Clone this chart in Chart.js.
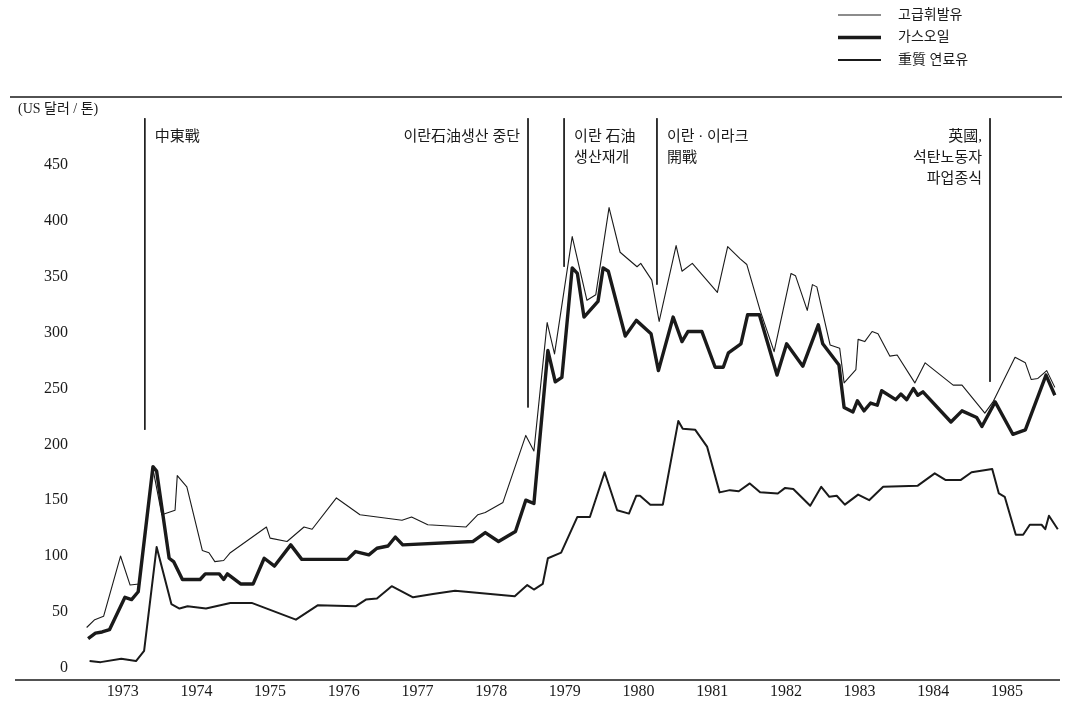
<!DOCTYPE html>
<html>
<head>
<meta charset="utf-8">
<script src="https://cdn.jsdelivr.net/npm/chart.js@4.4.1/dist/chart.umd.min.js"></script>
<style>
  html, body { margin: 0; padding: 0; background: #fff; }
  #wrap { width: 1067px; height: 704px; }
</style>
</head>
<body>
<div id="wrap"><canvas id="oilChart"></canvas></div>
<script>
// [decimal year, US$ / ton]
const gasoline = [
  [1973.01, 36], [1973.12, 43], [1973.24, 46], [1973.47, 100], [1973.60, 74], [1973.72, 75],
  [1973.91, 178], [1974.03, 137], [1974.21, 141], [1974.24, 172], [1974.37, 162], [1974.58, 105],
  [1974.67, 103], [1974.75, 95], [1974.87, 96], [1974.96, 103], [1975.45, 126], [1975.50, 116],
  [1975.73, 113], [1975.96, 126], [1976.07, 124], [1976.40, 152], [1976.72, 137], [1977.29, 132],
  [1977.42, 135], [1977.64, 128], [1978.16, 126], [1978.32, 137], [1978.42, 139], [1978.66, 148],
  [1978.97, 208], [1979.08, 194], [1979.26, 309], [1979.36, 281], [1979.60, 386], [1979.80, 329],
  [1979.92, 334], [1980.10, 412], [1980.25, 372], [1980.48, 359], [1980.53, 362], [1980.68, 347],
  [1980.78, 310], [1981.01, 378], [1981.09, 355], [1981.23, 362], [1981.57, 336], [1981.71, 377],
  [1981.88, 366], [1981.97, 361], [1982.15, 320], [1982.34, 283], [1982.57, 353], [1982.63, 351],
  [1982.79, 320], [1982.86, 343], [1982.92, 341], [1983.10, 289], [1983.23, 286], [1983.29, 255],
  [1983.45, 267], [1983.48, 294], [1983.57, 292], [1983.67, 301], [1983.75, 299], [1983.91, 279],
  [1984.01, 280], [1984.25, 255], [1984.39, 273], [1984.77, 253], [1984.89, 253], [1985.20, 228],
  [1985.31, 238], [1985.61, 278], [1985.75, 273], [1985.83, 258], [1985.92, 259], [1986.04, 266],
  [1986.15, 251]
];

const gasOil = [
  [1973.03, 26], [1973.13, 31], [1973.22, 32], [1973.32, 34], [1973.53, 63], [1973.62, 61],
  [1973.71, 68], [1973.91, 180], [1973.96, 176], [1974.13, 98], [1974.19, 95], [1974.31, 79],
  [1974.55, 79], [1974.62, 84], [1974.81, 84], [1974.87, 79], [1974.92, 84], [1975.10, 75],
  [1975.27, 75], [1975.42, 98], [1975.56, 91], [1975.78, 110], [1975.93, 97], [1976.55, 97],
  [1976.66, 104], [1976.84, 101], [1976.95, 107], [1977.10, 109], [1977.20, 117], [1977.30, 110],
  [1978.25, 113], [1978.42, 121], [1978.60, 113], [1978.83, 122], [1978.97, 150], [1979.08, 147],
  [1979.27, 284], [1979.37, 256], [1979.46, 260], [1979.60, 358], [1979.67, 353], [1979.76, 314],
  [1979.95, 328], [1980.02, 358], [1980.09, 355], [1980.32, 297], [1980.47, 311], [1980.67, 299],
  [1980.77, 266], [1980.97, 314], [1981.09, 292], [1981.17, 301], [1981.36, 301], [1981.54, 269],
  [1981.65, 269], [1981.72, 282], [1981.89, 290], [1981.98, 316], [1982.14, 316], [1982.38, 262],
  [1982.51, 290], [1982.73, 270], [1982.94, 307], [1983.00, 290], [1983.22, 271], [1983.29, 233],
  [1983.41, 229], [1983.47, 239], [1983.56, 230], [1983.65, 237], [1983.74, 235], [1983.80, 248],
  [1983.99, 240], [1984.06, 245], [1984.14, 240], [1984.23, 250], [1984.29, 244], [1984.36, 247],
  [1984.74, 220], [1984.89, 230], [1985.09, 224], [1985.16, 216], [1985.34, 238], [1985.58, 209],
  [1985.75, 213], [1986.03, 262], [1986.15, 244]
];

const fuelOil = [
  [1973.05, 6], [1973.20, 5], [1973.48, 8], [1973.68, 6], [1973.79, 15], [1973.96, 108],
  [1974.16, 57], [1974.27, 53], [1974.38, 55], [1974.63, 53], [1974.96, 58], [1975.25, 58],
  [1975.85, 43], [1976.15, 56], [1976.66, 55], [1976.80, 61], [1976.95, 62], [1977.15, 73],
  [1977.44, 63], [1977.71, 66], [1978.01, 69], [1978.82, 64], [1978.99, 74], [1979.08, 70],
  [1979.20, 75], [1979.27, 98], [1979.45, 103], [1979.67, 135], [1979.84, 135], [1980.04, 175],
  [1980.21, 141], [1980.37, 138], [1980.47, 154], [1980.52, 154], [1980.66, 146], [1980.83, 146],
  [1981.04, 221], [1981.10, 214], [1981.27, 213], [1981.43, 198], [1981.60, 157], [1981.74, 159],
  [1981.86, 158], [1982.01, 165], [1982.15, 157], [1982.39, 156], [1982.49, 161], [1982.60, 160],
  [1982.83, 145], [1982.98, 162], [1983.09, 153], [1983.19, 154], [1983.30, 146], [1983.48, 155],
  [1983.63, 150], [1983.82, 162], [1984.29, 163], [1984.52, 174], [1984.67, 168], [1984.87, 168],
  [1985.02, 175], [1985.30, 178], [1985.39, 156], [1985.47, 153], [1985.62, 119], [1985.72, 119],
  [1985.81, 128], [1985.97, 128], [1986.02, 124], [1986.07, 136], [1986.19, 124]
];

const seriesNames = ['고급휘발유', '가스오일', '重質 연료유'];

// event markers: when, where the line stops, caption lines, caption side
const eventT = [1973.80, 1979.00, 1979.49, 1980.75, 1985.27];
const eventBottom = [213, 233, 359, 343, 256];
const eventTop = 492;
const eventText = [
  ['中東戰'],
  ['이란石油생산 중단'],
  ['이란 石油', '생산재개'],
  ['이란 · 이라크', '開戰'],
  ['英國,', '석탄노동자', '파업종식']
];
const eventSide = ['right', 'left', 'right', 'right', 'left'];

const yTicks = [0, 50, 100, 150, 200, 250, 300, 350, 400, 450];
const years = [1973, 1974, 1975, 1976, 1977, 1978, 1979, 1980, 1981, 1982, 1983, 1984, 1985];

const FONT = "'Liberation Serif', 'Noto Sans CJK KR', serif";
const INK = '#1a1a1a';

function toXY(arr) {
  return arr.map(function (p) { return { x: p[0], y: p[1] }; });
}

var datasets = [
  { label: seriesNames[0], data: toXY(gasoline), borderWidth: 1.1 },
  { label: seriesNames[1], data: toXY(gasOil), borderWidth: 3.4 },
  { label: seriesNames[2], data: toXY(fuelOil), borderWidth: 2 }
];
eventT.forEach(function (t, i) {
  datasets.push({
    label: 'event' + i,
    data: [{ x: t, y: eventTop }, { x: t, y: eventBottom[i] }],
    borderWidth: 1
  });
});
datasets.forEach(function (d) {
  d.borderColor = INK;
  d.backgroundColor = INK;
  d.pointRadius = 0;
  d.tension = 0;
  d.fill = false;
  d.borderJoinStyle = 'round';
});

const decor = {
  id: 'decor',
  afterDraw: function (chart) {
    const ctx = chart.ctx;
    const xs = chart.scales.x;
    const area = chart.chartArea;
    ctx.save();

    // top rule and baseline
    ctx.strokeStyle = INK;
    ctx.lineWidth = 1.5;
    ctx.beginPath();
    ctx.moveTo(10, area.top);
    ctx.lineTo(1062, area.top);
    ctx.moveTo(15, area.bottom);
    ctx.lineTo(area.right, area.bottom);
    ctx.stroke();

    ctx.fillStyle = INK;
    ctx.textBaseline = 'middle';
    ctx.font = '14px ' + FONT;
    ctx.textAlign = 'left';
    ctx.fillText('(US 달러 / 톤)', 18, area.top + 12);

    // event captions
    ctx.font = '15px ' + FONT;
    eventT.forEach(function (t, i) {
      const px = xs.getPixelForValue(t);
      const right = eventSide[i] === 'right';
      ctx.textAlign = right ? 'left' : 'right';
      eventText[i].forEach(function (line, j) {
        ctx.fillText(line, right ? px + 10 : px - 8, area.top + 40 + j * 21);
      });
    });

    // legend
    ctx.font = '14px ' + FONT;
    ctx.textAlign = 'left';
    for (let i = 0; i < 3; i++) {
      const ds = chart.data.datasets[i];
      const ly = 15 + i * 22.5;
      ctx.lineWidth = ds.borderWidth;
      ctx.beginPath();
      ctx.moveTo(838, ly);
      ctx.lineTo(881, ly);
      ctx.stroke();
      ctx.fillText(ds.label, 898, ly);
    }
    ctx.restore();
  }
};

Chart.defaults.font.family = FONT;
Chart.defaults.font.size = 16;
Chart.defaults.color = INK;

new Chart(document.getElementById('oilChart'), {
  type: 'line',
  data: { datasets: datasets },
  options: {
    responsive: true,
    maintainAspectRatio: false,
    animation: false,
    layout: { padding: { top: 97, right: 7, left: 0, bottom: 0 } },
    plugins: {
      legend: { display: false },
      tooltip: { enabled: false }
    },
    scales: {
      x: {
        type: 'linear',
        min: 1972.92,
        max: 1986.22,
        grid: { display: false, drawTicks: false },
        border: { display: false },
        afterBuildTicks: function (scale) {
          scale.ticks = years.map(function (y) { return { value: y + 0.5 }; });
        },
        afterFit: function (scale) { scale.height = 24; },
        ticks: {
          padding: 2,
          maxRotation: 0,
          autoSkip: false,
          callback: function (v) { return String(Math.floor(v)); }
        }
      },
      y: {
        min: -11,
        max: 511,
        grid: { display: false, drawTicks: false },
        border: { display: false },
        afterBuildTicks: function (scale) {
          scale.ticks = yTicks.map(function (v) { return { value: v }; });
        },
        afterFit: function (scale) { scale.width = 80; },
        ticks: { padding: 12 }
      }
    }
  },
  plugins: [decor]
});
</script>
</body>
</html>
